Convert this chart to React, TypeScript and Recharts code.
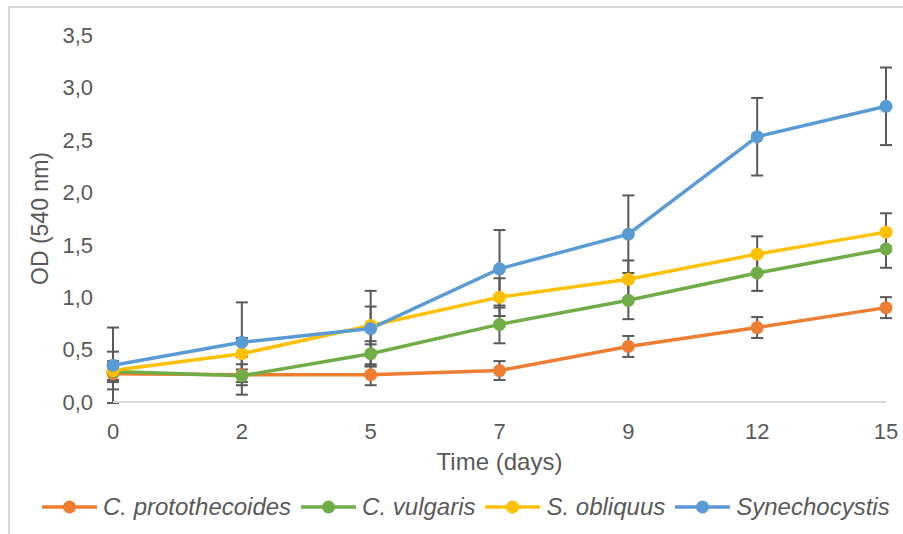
import React from 'react';
import { LineChart, Line, XAxis, YAxis, ErrorBar } from 'recharts';

const days = ['0', '2', '5', '7', '9', '12', '15'];
const yTicks = [0, 0.5, 1, 1.5, 2, 2.5, 3, 3.5];

const protoValues = [0.27, 0.26, 0.26, 0.3, 0.53, 0.71, 0.9];
const protoErrors = [0.06, 0.1, 0.1, 0.09, 0.1, 0.1, 0.1];
const vulgarisValues = [0.29, 0.25, 0.46, 0.74, 0.97, 1.23, 1.46];
const vulgarisErrors = [0.1, 0.18, 0.12, 0.18, 0.18, 0.17, 0.18];
const obliquusValues = [0.3, 0.46, 0.73, 1.0, 1.17, 1.41, 1.62];
const obliquusErrors = [0.18, 0.15, 0.18, 0.18, 0.18, 0.17, 0.18];
const synValues = [0.35, 0.57, 0.7, 1.27, 1.6, 2.53, 2.82];
const synErrors = [0.36, 0.38, 0.36, 0.37, 0.37, 0.37, 0.37];

const series = [
  { key: 'proto', err: 'protoErr', name: 'C. protothecoides', color: '#ED7D31', values: protoValues, errors: protoErrors },
  { key: 'vulg', err: 'vulgErr', name: 'C. vulgaris', color: '#70AD47', values: vulgarisValues, errors: vulgarisErrors },
  { key: 'obl', err: 'oblErr', name: 'S. obliquus', color: '#FFC000', values: obliquusValues, errors: obliquusErrors },
  { key: 'syn', err: 'synErr', name: 'Synechocystis', color: '#5B9BD5', values: synValues, errors: synErrors },
];

const data = days.map((d, i) => {
  const row: Record<string, number | string> = { day: d };
  series.forEach((s) => {
    row[s.key] = s.values[i];
    row[s.err] = s.errors[i];
  });
  return row;
});

const FONT = '"Liberation Sans", Arial, sans-serif';
const TEXT = '#595959';

const fmt = (v: number) => v.toFixed(1).replace('.', ',');

export default function App() {
  return (
    <div style={{ position: 'fixed', left: 0, top: 0, width: 903, height: 534, overflow: 'hidden', background: '#fff', fontFamily: FONT }}>
      <div style={{ position: 'absolute', left: 8, top: 6, width: 895, height: 528, borderLeft: '2px solid #d9d9d9', borderTop: '2px solid #d9d9d9', boxSizing: 'border-box' }} />
      <div style={{ position: 'absolute', left: 0, top: 0 }}>
        <LineChart width={903} height={534} data={data} margin={{ top: 35, right: 17, bottom: 64, left: 0 }}>
          <XAxis
            dataKey="day"
            tickLine={false}
            tickSize={0}
            tickMargin={21}
            axisLine={{ stroke: '#d9d9d9', strokeWidth: 2 }}
            tick={{ fill: TEXT, fontSize: 22, fontFamily: FONT }}
            height={68}
            label={{ value: 'Time (days)', position: 'insideBottom', offset: 0, fill: TEXT, fontSize: 24, fontFamily: FONT }}
          />
          <YAxis
            width={113}
            domain={[0, 3.5]}
            ticks={yTicks}
            allowDataOverflow
            tickLine={false}
            axisLine={false}
            tickSize={0}
            tickMargin={20}
            tickFormatter={fmt}
            tick={{ fill: TEXT, fontSize: 22, fontFamily: FONT }}
            label={{ value: 'OD (540 nm)', angle: -90, position: 'insideLeft', offset: 40, fill: TEXT, fontSize: 23, fontFamily: FONT, style: { textAnchor: 'middle' } }}
          />
          {series.map((s) => (
            <Line
              key={s.key}
              dataKey={s.key}
              name={s.name}
              stroke={s.color}
              strokeWidth={3.5}
              dot={{ r: 6.5, fill: s.color, stroke: s.color, strokeWidth: 0 }}
              activeDot={false}
              isAnimationActive={false}
            >
              <ErrorBar dataKey={s.err} width={6} stroke="#595959" strokeWidth={2} direction="y" />
            </Line>
          ))}
        </LineChart>
      </div>
      <div
        style={{
          position: 'absolute',
          left: 0,
          top: 492,
          width: 903,
          height: 30,
          display: 'flex',
          justifyContent: 'flex-start',
          alignItems: 'center',
          paddingLeft: 42,
          boxSizing: 'border-box',
          fontFamily: FONT,
          fontStyle: 'italic',
          fontSize: 24,
          color: TEXT,
        }}
      >
        {series.map((s) => (
          <div key={s.key} style={{ display: 'flex', alignItems: 'center', marginRight: 10 }}>
            <svg width={55} height={16} style={{ display: 'block' }}>
              <line x1={0} y1={8} x2={55} y2={8} stroke={s.color} strokeWidth={3.5} />
              <circle cx={27.5} cy={8} r={6.5} fill={s.color} />
            </svg>
            <span style={{ marginLeft: 6, whiteSpace: 'nowrap' }}>{s.name}</span>
          </div>
        ))}
      </div>
    </div>
  );
}
